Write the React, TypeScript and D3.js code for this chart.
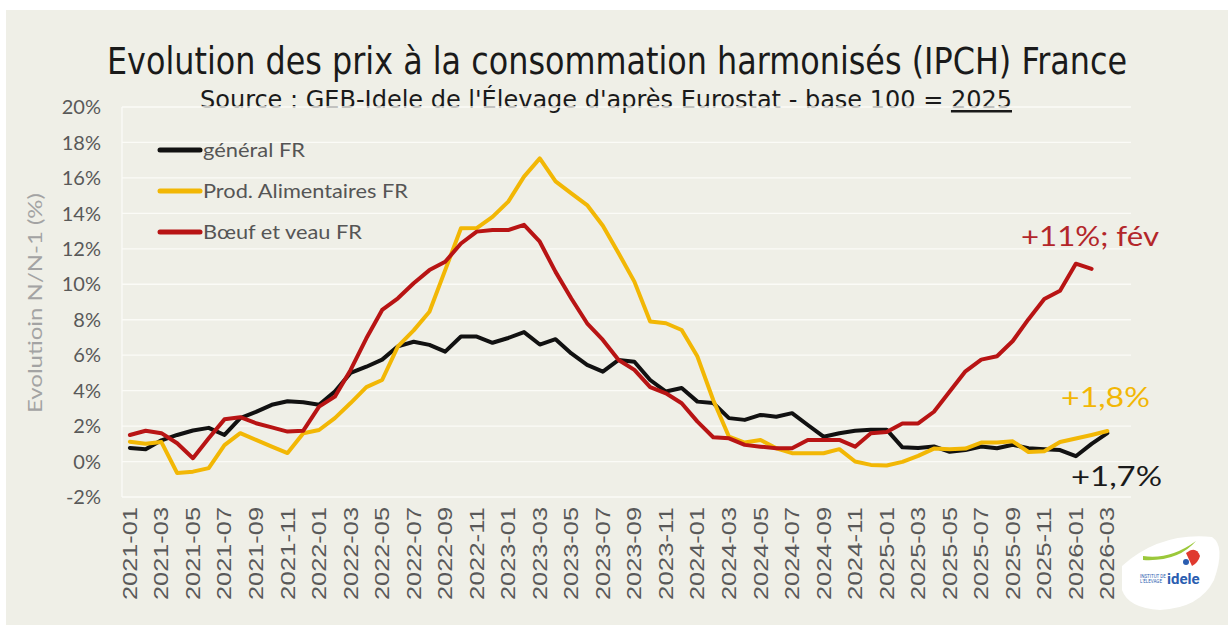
import React from "react";
import * as d3 from "d3";

// categories: monthly, 2021-01 .. 2026-04 (last one left empty in the source chart)
const years = [2021, 2022, 2023, 2024, 2025, 2026];
const months = years
  .flatMap(y => d3.range(1, 13).map(m => `${y}-${String(m).padStart(2, "0")}`))
  .slice(0, 64);

const yTicks = [-2, 0, 2, 4, 6, 8, 10, 12, 14, 16, 18, 20];

// year-on-year change, %
const general = [
  0.77, 0.7, 1.2, 1.5, 1.75, 1.9, 1.5, 2.45, 2.8, 3.2, 3.4, 3.35,
  3.2, 3.95, 5.0, 5.35, 5.75, 6.5, 6.76, 6.58, 6.2, 7.05, 7.05, 6.7,
  6.97, 7.3, 6.6, 6.9, 6.1, 5.45, 5.07, 5.73, 5.63, 4.6, 3.95, 4.15,
  3.38, 3.3, 2.45, 2.35, 2.63, 2.53, 2.73, 2.06, 1.4, 1.6, 1.74, 1.8,
  1.8, 0.8, 0.77, 0.85, 0.55, 0.65, 0.85, 0.75, 0.95, 0.75, 0.7, 0.65,
  0.3, 1.0, 1.6
];

const alimentaire = [
  1.12, 1.0, 1.1, -0.65, -0.57, -0.37, 0.93, 1.6, 1.22, 0.84, 0.48, 1.6,
  1.78, 2.45, 3.3, 4.2, 4.6, 6.5, 7.4, 8.45, 10.8, 13.16, 13.17, 13.8,
  14.66, 16.07, 17.1, 15.8, 15.13, 14.47, 13.3, 11.75, 10.15, 7.9, 7.8, 7.42,
  5.92, 3.47, 1.4, 1.07, 1.22, 0.75, 0.47, 0.47, 0.47, 0.7, 0.0, -0.19,
  -0.22, -0.02, 0.32, 0.73, 0.7, 0.73, 1.07, 1.07, 1.14, 0.54, 0.58, 1.1,
  1.3, 1.5, 1.72
];

const boeuf = [
  1.5, 1.74, 1.6, 1.03, 0.19, 1.31, 2.38, 2.5, 2.16, 1.93, 1.69, 1.74,
  3.1, 3.66, 5.17, 6.95, 8.55, 9.21, 10.06, 10.8, 11.27, 12.3, 12.97, 13.06,
  13.06, 13.35, 12.4, 10.7, 9.2, 7.8, 6.86, 5.73, 5.17, 4.2, 3.85, 3.29,
  2.25, 1.37, 1.31, 0.94, 0.84, 0.75, 0.75, 1.22, 1.22, 1.22, 0.84, 1.6,
  1.67, 2.15, 2.15, 2.81, 3.95, 5.09, 5.75, 5.94, 6.8, 8.03, 9.17, 9.64,
  11.16, 10.87
];

const seriesNames = ["général FR", "Prod. Alimentaires FR", "Bœuf et veau FR"];
const seriesColors = ["#111111", "#f2b705", "#b81414"];
const seriesValues = [general, alimentaire, boeuf];
const legendWidths = [102, 205, 159];

const W = 1228;
const H = 625;
const tickFont = "Lato, 'Open Sans', sans-serif";
const titleFont = "'Liberation Sans Narrow', 'DejaVu Sans Condensed', Roboto, sans-serif";

export default function App() {
  const x = d3.scaleBand<string>().domain(months).range([122, 1131]);
  const y = d3.scaleLinear().domain([-2, 20]).range([497, 107]);
  const cx = (i: number) => (x(months[i]) as number) + x.bandwidth() / 2;

  const line = d3
    .line<number>()
    .x((_, i) => cx(i))
    .y(d => y(d));

  return (
    <svg
      width={W}
      height={H}
      style={{ position: "absolute", left: 0, top: 0 }}
      fontFamily={tickFont}
    >
      <rect width={W} height={H} fill="#ffffff" />
      <rect x={6} y={10} width={W - 6} height={H - 10} fill="#efefe7" />

      {/* title */}
      <text
        x={107}
        y={74}
        fontSize={37}
        fill="#1a1a1a"
        fontFamily={titleFont}
        textLength={1020}
        lengthAdjust="spacingAndGlyphs"
      >
        Evolution des prix à la consommation harmonisés (IPCH) France
      </text>
      <text
        x={200}
        y={108}
        fontSize={25}
        fill="#1a1a1a"
        fontFamily={titleFont}
        textLength={812}
        lengthAdjust="spacingAndGlyphs"
      >
        Source : GEB-Idele de l'Élevage d'après Eurostat - base 100 ={" "}
        <tspan textDecoration="underline">2025</tspan>
      </text>

      {/* grid */}
      {yTicks.map(t => (
        <line
          key={t}
          x1={122}
          x2={1131}
          y1={y(t)}
          y2={y(t)}
          stroke="#fbfbf7"
          strokeWidth={1.3}
        />
      ))}
      <line x1={122} x2={122} y1={y(20)} y2={y(-2)} stroke="#fbfbf7" strokeWidth={1.3} />

      {/* y ticks */}
      {yTicks.map(t => (
        <text
          key={t}
          x={101}
          y={y(t)}
          dy="0.36em"
          textAnchor="end"
          fontSize={20}
          fill="#595959"
        >
          {`${t}%`}
        </text>
      ))}
      <text
        transform={`translate(42,${(y(20) + y(-2)) / 2 + 1}) rotate(-90)`}
        textAnchor="middle"
        fontSize={19}
        fill="#a3a3a3"
        textLength={220}
        lengthAdjust="spacingAndGlyphs"
      >
        Evolutioin N/N-1 (%)
      </text>

      {/* x ticks */}
      {months.map((m, i) =>
        i % 2 === 0 && i < 63 ? (
          <text
            key={m}
            transform={`translate(${cx(i) + 7},507) rotate(-90)`}
            textAnchor="end"
            fontSize={20}
            fill="#595959"
            fontFamily="'Liberation Sans', Arial, sans-serif"
            textLength={93}
            lengthAdjust="spacingAndGlyphs"
          >
            {m}
          </text>
        ) : null
      )}

      {/* series */}
      {seriesValues.map((vals, k) => (
        <path
          key={seriesNames[k]}
          d={line(vals) ?? ""}
          fill="none"
          stroke={seriesColors[k]}
          strokeWidth={4}
          strokeLinejoin="round"
          strokeLinecap="round"
        />
      ))}

      {/* legend */}
      {seriesNames.map((name, k) => (
        <g key={name} transform={`translate(160,${150 + k * 41})`}>
          <line x1={0} x2={40} y1={0} y2={0} stroke={seriesColors[k]} strokeWidth={5} strokeLinecap="round" />
          <text
            x={43}
            y={0}
            dy="0.35em"
            fontSize={20}
            fill="#555555"
            textLength={legendWidths[k]}
            lengthAdjust="spacingAndGlyphs"
          >
            {name}
          </text>
        </g>
      ))}

      {/* end annotations */}
      <text x={1021} y={246} fontSize={27} fill="#b3262a" textLength={138} lengthAdjust="spacingAndGlyphs">
        +11%; fév
      </text>
      <text x={1061} y={407} fontSize={27} fill="#f2b705" textLength={89} lengthAdjust="spacingAndGlyphs">
        +1,8%
      </text>
      <text x={1071} y={486} fontSize={27} fill="#1a1a1a" textLength={91} lengthAdjust="spacingAndGlyphs">
        +1,7%
      </text>

      {/* logo */}
      <g>
        <path
          d="M1122,566 Q1160,532 1212,537 Q1226,546 1214,580 Q1200,608 1160,610 Q1128,608 1122,590 Z"
          fill="#ffffff"
        />
        <path d="M1143,556 Q1170,560 1196,541 Q1178,562 1143,560 Z" fill="#9bc83a" />
        <path d="M1186,553 Q1196,545 1200,556 Q1198,563 1192,566 Z" fill="#e03a2f" />
        <circle cx={1186} cy={562} r={3} fill="#2a5db0" />
        <text x={1140} y={578} fontSize={4.5} fill="#2a5db0" fontFamily="Roboto, sans-serif">INSTITUT DE</text>
        <text x={1140} y={583} fontSize={4.5} fill="#2a5db0" fontFamily="Roboto, sans-serif">L'ÉLEVAGE</text>
        <text x={1167} y={584} fontSize={15} fontWeight={700} fill="#2a5db0" fontFamily="Roboto, sans-serif">idele</text>
      </g>
    </svg>
  );
}
